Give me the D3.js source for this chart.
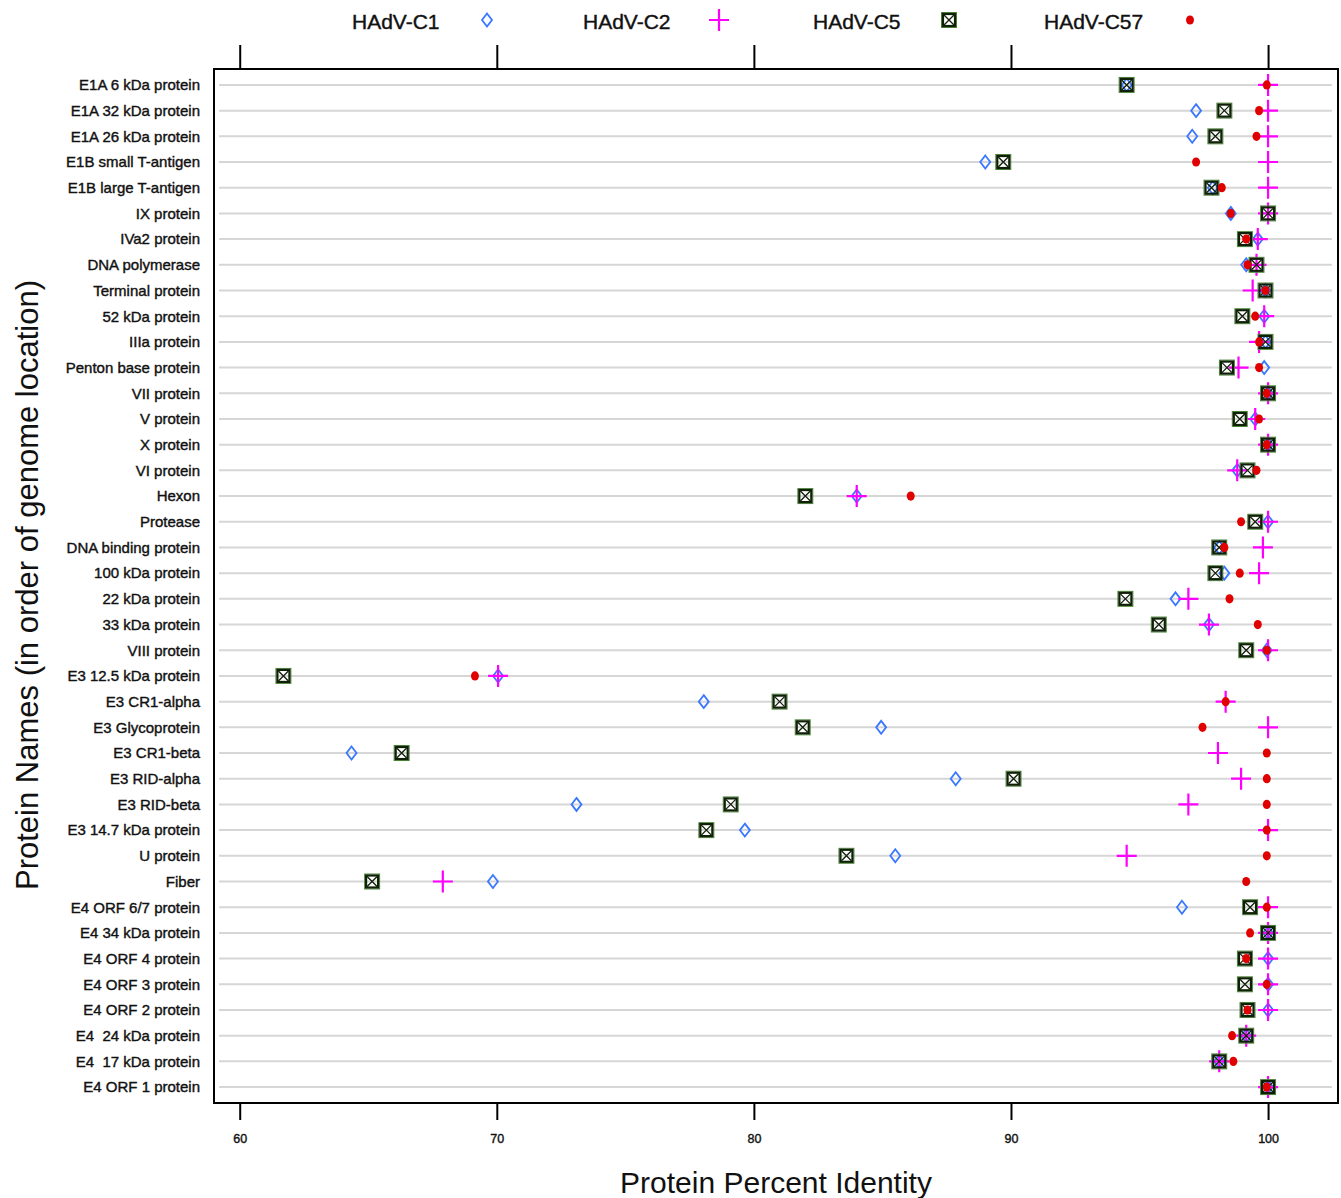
<!DOCTYPE html>
<html>
<head>
<meta charset="utf-8">
<script src="https://cdn.jsdelivr.net/npm/d3@7"></script>
<style>
  body { margin: 0; background: #fff; }
  text { font-family: "Liberation Sans", Arial, sans-serif; fill: #111; }
  .heavy { stroke: #111; stroke-width: 0.4px; }
</style>
</head>
<body>
<script>
// DATA
const proteins = [
  "E1A 6 kDa protein", "E1A 32 kDa protein", "E1A 26 kDa protein", "E1B small T-antigen",
  "E1B large T-antigen", "IX protein", "IVa2 protein", "DNA polymerase", "Terminal protein",
  "52 kDa protein", "IIIa protein", "Penton base protein", "VII protein", "V protein",
  "X protein", "VI protein", "Hexon", "Protease", "DNA binding protein", "100 kDa protein",
  "22 kDa protein", "33 kDa protein", "VIII protein", "E3 12.5 kDa protein", "E3 CR1-alpha",
  "E3 Glycoprotein", "E3 CR1-beta", "E3 RID-alpha", "E3 RID-beta", "E3 14.7 kDa protein",
  "U protein", "Fiber", "E4 ORF 6/7 protein", "E4 34 kDa protein", "E4 ORF 4 protein",
  "E4 ORF 3 protein", "E4 ORF 2 protein", "E4  24 kDa protein", "E4  17 kDa protein",
  "E4 ORF 1 protein"
];
const c1 = [94.5, 97.2, 97.05, 89.0, 97.85, 98.55, 99.6, 99.15, 99.9, 99.85, 99.9, 99.85, 100, 99.5,
  100, 98.8, 84.0, 100, 98.1, 98.3, 96.4, 97.7, 99.95, 70.05, 78.05, 84.95, 64.35, 87.85, 73.1,
  79.65, 85.5, 69.85, 96.65, 100, 100, 100, 100, 99.15, 98.1, 100];
const c2 = [100, 100, 100, 100, 100, 100, 99.6, 99.55, 99.4, 99.85, 99.65, 98.85, 100, 99.5,
  100, 98.8, 84.0, 100, 99.8, 99.65, 96.9, 97.7, 100, 70.05, 98.35, 100, 98.05, 98.95, 96.9,
  100, 94.5, 67.9, 100, 100, 100, 100, 100, 99.15, 98.1, 100];
const c5 = [94.5, 98.3, 97.95, 89.7, 97.8, 100, 99.1, 99.55, 99.9, 99.0, 99.9, 98.4, 100, 98.9,
  100, 99.2, 82.0, 99.5, 98.1, 97.95, 94.45, 95.75, 99.15, 61.7, 81.0, 81.9, 66.3, 90.1, 79.1,
  78.15, 83.6, 65.15, 99.3, 100, 99.1, 99.1, 99.2, 99.15, 98.1, 100];
const c57 = [99.95, 99.65, 99.55, 97.2, 98.2, 98.55, 99.15, 99.2, 99.9, 99.5, 99.65, 99.65, 99.95, 99.65,
  99.95, 99.55, 86.1, 98.95, 98.3, 98.9, 98.5, 99.6, 99.95, 69.15, 98.35, 97.45, 99.95, 99.95, 99.95,
  99.95, 99.95, 99.15, 99.95, 99.3, 99.15, 99.95, 99.2, 98.6, 98.65, 99.95];
const seriesNames = ["HAdV-C1", "HAdV-C2", "HAdV-C5", "HAdV-C57"];
const xTicks = [60, 70, 80, 90, 100];

// LAYOUT
const width = 1341;
const height = 1198;
const plot = { left: 214, right: 1338, top: 69, bottom: 1103 };

const svg = d3.select("body").append("svg")
  .attr("width", width)
  .attr("height", height);

// SCALES
const xScale = d3.scaleLinear()
  .domain([59, 102.72])
  .range([plot.left, plot.right]);

const yScale = d3.scalePoint()
  .domain(proteins)
  .range([plot.top, plot.bottom])
  .padding(0.62);

// SYMBOLS
const drawDiamond = (g) => g.append("path")
  .attr("d", "M0,-6.5L5,0L0,6.5L-5,0Z")
  .attr("fill", "none")
  .attr("stroke", "#3a78ff")
  .attr("stroke-width", 1.8);

const drawPlus = (g) => g.append("path")
  .attr("d", "M-10,0H10M0,-11V11")
  .attr("stroke", "#ff00ff")
  .attr("stroke-width", 2.2);

const drawBoxX = (g) => {
  g.append("rect").attr("x", -7.5).attr("y", -7.5).attr("width", 15).attr("height", 15)
    .attr("fill", "none").attr("stroke", "#4f8a3c").attr("stroke-width", 1);
  g.append("rect").attr("x", -6).attr("y", -6).attr("width", 12).attr("height", 12)
    .attr("fill", "none").attr("stroke", "#102008").attr("stroke-width", 2.2);
  g.append("path").attr("d", "M-5,-5L5,5M5,-5L-5,5")
    .attr("stroke", "#102008").attr("stroke-width", 1.3);
};

const drawDot = (g) => g.append("ellipse")
  .attr("rx", 4).attr("ry", 4.6)
  .attr("fill", "#e00000");

const series = [
  { name: seriesNames[0], values: c1, draw: drawDiamond },
  { name: seriesNames[1], values: c2, draw: drawPlus },
  { name: seriesNames[2], values: c5, draw: drawBoxX },
  { name: seriesNames[3], values: c57, draw: drawDot }
];

// GRID LINES
svg.append("g")
  .selectAll("line")
  .data(proteins)
  .enter()
  .append("line")
  .attr("x1", plot.left + 5)
  .attr("x2", plot.right - 6)
  .attr("y1", (d) => yScale(d))
  .attr("y2", (d) => yScale(d))
  .attr("stroke", "#d6d6d6")
  .attr("stroke-width", 2);

// POINTS
series.forEach((s) => {
  const layer = svg.append("g").attr("class", "series");
  s.values.forEach((v, i) => {
    const g = layer.append("g")
      .attr("transform", `translate(${xScale(v)},${yScale(proteins[i])})`);
    s.draw(g);
  });
});

// BOX
svg.append("rect")
  .attr("x", plot.left)
  .attr("y", plot.top)
  .attr("width", plot.right - plot.left)
  .attr("height", plot.bottom - plot.top)
  .attr("fill", "none")
  .attr("stroke", "#000")
  .attr("stroke-width", 2);

// AXES
const xAxisBottom = d3.axisBottom(xScale).tickValues(xTicks).tickSize(17).tickPadding(14);
const xAxisTop = d3.axisTop(xScale).tickValues(xTicks).tickSize(24).tickFormat("");

const gx = svg.append("g")
  .attr("transform", `translate(0,${plot.bottom})`)
  .call(xAxisBottom);
gx.select(".domain").remove();
gx.selectAll("line").attr("stroke", "#000").attr("stroke-width", 2);
gx.selectAll("text")
  .attr("class", "heavy")
  .attr("font-size", 12.5)
  .attr("font-family", "'Liberation Sans', Arial, sans-serif")
  .attr("fill", "#111");

const gxt = svg.append("g")
  .attr("transform", `translate(0,${plot.top})`)
  .call(xAxisTop);
gxt.select(".domain").remove();
gxt.selectAll("line").attr("stroke", "#000").attr("stroke-width", 2);

const yAxis = d3.axisLeft(yScale).tickSize(0).tickPadding(14);
const gy = svg.append("g")
  .attr("transform", `translate(${plot.left},0)`)
  .call(yAxis);
gy.select(".domain").remove();
gy.selectAll("text")
  .attr("class", "heavy")
  .attr("font-size", 15)
  .attr("font-family", "'Liberation Sans', Arial, sans-serif")
  .attr("fill", "#111")
  .style("white-space", "pre");

// AXIS TITLES
svg.append("text")
  .attr("x", 776)
  .attr("y", 1193)
  .attr("text-anchor", "middle")
  .attr("font-size", 30)
  .text("Protein Percent Identity");

svg.append("text")
  .attr("transform", "translate(38,585) rotate(-90)")
  .attr("text-anchor", "middle")
  .attr("font-size", 31)
  .text("Protein Names (in order of genome location)");

// LEGEND
const legendTextX = [352, 583, 813, 1044];
const legendSymX = [487, 719, 949, 1190];
const legend = svg.append("g").attr("id", "legend");
series.forEach((s, i) => {
  legend.append("text")
    .attr("class", "heavy")
    .attr("x", legendTextX[i])
    .attr("y", 29)
    .attr("font-size", 21)
    .text(s.name);
  const g = legend.append("g").attr("transform", `translate(${legendSymX[i]},20)`);
  s.draw(g);
});
</script>
</body>
</html>
